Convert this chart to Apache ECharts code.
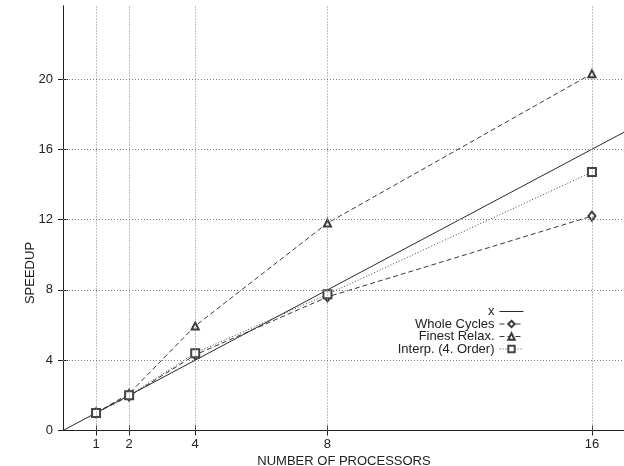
<!DOCTYPE html>
<html>
<head>
<meta charset="utf-8">
<script src="https://cdn.jsdelivr.net/npm/echarts@6/dist/echarts.min.js"></script>
<style>
  html, body { margin: 0; padding: 0; background: #ffffff; }
  #chart { width: 624px; height: 466px; }
</style>
</head>
<body>
<div id="chart"></div>
<script>
// Speedup measured against the number of processors
const processors   = [1, 2, 4, 8, 16];
const wholeCycles  = [1.0, 1.95, 4.3, 7.6, 12.2];
const finestRelax  = [1.0, 2.1, 5.95, 11.8, 20.3];
const interpOrder4 = [1.0, 2.0, 4.4, 7.75, 14.7];
const idealEnds    = [0, 17];           // ends of the linear x = y reference line
const xTicks = [1, 2, 4, 8, 16];
const yTicks = [0, 4, 8, 12, 16, 20];
const names  = ['x', 'Whole Cycles', 'Finest Relax.', 'Interp. (4. Order)'];

const FONT = 'Liberation Sans, Arial, Helvetica, sans-serif';
const INK = '#222';

const pairs = (xs, ys) => xs.map((v, i) => [v, ys[i]]);

const chart = echarts.init(document.getElementById('chart'), null, { renderer: 'canvas' });

const axisCommon = {
  type: 'value',
  axisLine: { show: true, lineStyle: { color: INK, width: 1 } },
  splitLine: { show: false },
  axisTick: { show: true, inside: true, length: 5, lineStyle: { color: INK } }
};

// one legend per row so that every sample line ends at the same x
const legendRows = [311, 323.5, 336, 348.5];
const legends = names.map((n, i) => ({
  data: [n],
  orient: 'vertical',
  align: 'right',
  right: 100,
  top: legendRows[i] - 6,
  padding: 0,
  itemWidth: 24,
  itemHeight: 8,
  lineStyle: { width: 1 },
  itemStyle: i === 0 ? { opacity: 0 } : { borderWidth: 1 },
  textStyle: { fontSize: 13, fontFamily: FONT, color: INK, lineHeight: 12 },
  selectedMode: false
}));

const option = {
  animation: false,
  backgroundColor: '#ffffff',
  grid: { left: 63, right: -1, top: 6, bottom: 35.5, containLabel: false, outerBoundsMode: 'none' },
  legend: legends,
  xAxis: [
    Object.assign({}, axisCommon, {
      position: 'bottom', min: 0, max: 17,
      axisTick: Object.assign({}, axisCommon.axisTick, { customValues: xTicks }),
      axisLabel: { customValues: xTicks, margin: 7, fontSize: 13, fontFamily: FONT, color: INK },
      name: 'NUMBER OF PROCESSORS', nameLocation: 'middle', nameGap: 18,
      nameTextStyle: { fontSize: 13, fontFamily: FONT, color: INK }
    }),
    Object.assign({}, axisCommon, {
      position: 'top', min: 0, max: 17,
      axisTick: Object.assign({}, axisCommon.axisTick, { customValues: xTicks }),
      axisLabel: { show: false }
    })
  ],
  yAxis: [
    Object.assign({}, axisCommon, {
      position: 'left', min: 0, max: 24.15,
      axisTick: Object.assign({}, axisCommon.axisTick, { customValues: yTicks }),
      axisLabel: { customValues: yTicks, margin: 10, fontSize: 13, fontFamily: FONT, color: INK }
    }),
    Object.assign({}, axisCommon, {
      position: 'right', min: 0, max: 24.15,
      axisTick: Object.assign({}, axisCommon.axisTick, { customValues: yTicks }),
      axisLabel: { show: false }
    })
  ],
  graphic: [{
    type: 'text',
    x: 30, y: 273,
    rotation: Math.PI / 2,
    style: { text: 'SPEEDUP', align: 'center', verticalAlign: 'middle',
             font: '13px ' + FONT, fill: INK }
  }],
  series: [
    {
      // dotted grid at the tick positions
      name: 'grid', type: 'line', data: [], z: 1, silent: true,
      markLine: {
        silent: true, symbol: 'none', label: { show: false },
        lineStyle: { type: [1, 2], color: '#808080', width: 1 },
        data: xTicks.map(v => ({ xAxis: v }))
          .concat(yTicks.filter(v => v > 0).map(v => ({ yAxis: v })))
      }
    },
    {
      name: names[0], type: 'line', data: pairs(idealEnds, idealEnds),
      showSymbol: false, symbol: 'none', z: 3,
      lineStyle: { color: '#2a2a2a', width: 1, type: 'solid' },
      itemStyle: { color: '#2a2a2a' }
    },
    {
      name: names[1], type: 'line', data: pairs(processors, wholeCycles),
      symbol: 'emptyDiamond', symbolSize: [7, 9], z: 3,
      lineStyle: { color: '#3a3a3a', width: 1, type: [5, 3] },
      itemStyle: { color: '#3a3a3a', borderWidth: 1 }
    },
    {
      name: names[2], type: 'line', data: pairs(processors, finestRelax),
      symbol: 'emptyTriangle', symbolSize: 7, z: 3,
      lineStyle: { color: '#3a3a3a', width: 1, type: [5, 3] },
      itemStyle: { color: '#3a3a3a', borderWidth: 1 }
    },
    {
      name: names[3], type: 'line', data: pairs(processors, interpOrder4),
      symbol: 'emptyRect', symbolSize: 8, z: 3,
      lineStyle: { color: '#444444', width: 1, type: [1, 2] },
      itemStyle: { color: '#444444', borderWidth: 1 }
    }
  ]
};

chart.setOption(option);
</script>
</body>
</html>
